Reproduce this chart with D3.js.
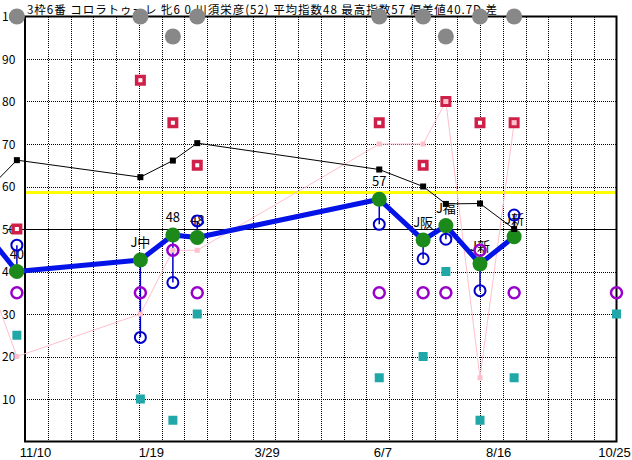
<!DOCTYPE html>
<html>
<head>
<meta charset="utf-8">
<script src="https://cdn.jsdelivr.net/npm/d3@7"></script>
<style>
  body { margin: 0; background: #fff; }
  svg { display: block; }
  text { font-family: "Noto Sans CJK JP", "Liberation Sans", sans-serif; }
</style>
</head>
<body>
<svg id="chart"></svg>
<script>
const W = 632, H = 460;
const margin = { top: 16.5, right: 15.5, bottom: 18.5, left: 25 };

const title = '3枠6番 コロラトゥーレ 牝6 0 川須栄彦(52) 平均指数48 最高指数57 偏差値40.7D 差';

// race dates (first one is off the left edge, last one is the upcoming race)
const raceDates = ['2019-10-01', '2019-10-22', '2020-01-06', '2020-01-26', '2020-02-10',
                   '2020-06-01', '2020-06-28', '2020-07-12', '2020-08-02', '2020-08-23', '2020-10-25'];
const raceLabels = ['', '40', 'J中', '48', '48', '57', 'J阪', 'J福', 'J新', 'J新', ''];
const indexVals  = [50, 40, 42.7, 48.6, 48, 57, 47.4, 50.8, 41.8, 48.2, null];
const avgVals    = [58, 66.2, 62.2, 66.1, 70.2, 64, 60, 55.9, 56, 50, null];
const blueVals   = [null, 46.2, 24.5, 37.4, 51.9, 51.1, 43, 47.6, 35.5, 53.3, null];
const purpleVals = [null, 35, 35, 45, 35, 35, 35, 35, 45, 35, 35];
const redVals    = [null, 50, 85, 75, 65, 75, 65, 80, 75, 75, null];
const pinkVals   = [42, 20, 30, 45, 45, 70, 70, 80, 15, 75, null];
const tealVals   = [null, 25, 10, 5, 30, 15, 20, 40, 5, 15, 30];
const grayVals   = [null, 100, 100, 95.3, 100, 100, 100, 95.3, 100, 100, null];

const xStart = '2019-10-27', xEnd = '2020-10-25';
const xLabels = ['11/10', '1/19', '3/29', '6/7', '8/16', '10/25'];
const yTicks = [10, 20, 30, 40, 50, 60, 70, 80, 90, 100];
const baseLine = 50, yellowLine = 58.6;

const parse = d3.utcParse('%Y-%m-%d');
const races = raceDates.map((d, i) => ({
  date: parse(d), label: raceLabels[i], idx: indexVals[i], avg: avgVals[i], blue: blueVals[i],
  purple: purpleVals[i], red: redVals[i], pink: pinkVals[i], teal: tealVals[i], gray: grayVals[i]
}));

const svg = d3.select('#chart').attr('width', W).attr('height', H);
svg.append('rect').attr('width', W).attr('height', H).attr('fill', '#fff');

const x = d3.scaleUtc()
  .domain([parse(xStart), parse(xEnd)])
  .range([margin.left, W - margin.right]);
const y = d3.scaleLinear()
  .domain([0, 100])
  .range([H - margin.bottom, margin.top]);
const xl = d3.scalePoint().domain(xLabels).range([35, 614]);

const left = margin.left, right = W - margin.right;

// grid
const gridDates = d3.range(1, 26).map(i => d3.utcDay.offset(parse(xStart), i * 14));
svg.append('g').selectAll('line').data(gridDates).join('line')
  .attr('x1', d => Math.round(x(d)) + 0.5).attr('x2', d => Math.round(x(d)) + 0.5)
  .attr('y1', y(100)).attr('y2', y(0))
  .attr('stroke', '#000').attr('stroke-dasharray', '1,1').attr('shape-rendering', 'crispEdges');
svg.append('g').selectAll('line').data(yTicks.filter(v => v < 100 && v !== baseLine)).join('line')
  .attr('x1', left).attr('x2', right)
  .attr('y1', d => Math.round(y(d)) + 0.5).attr('y2', d => Math.round(y(d)) + 0.5)
  .attr('stroke', '#000').attr('stroke-dasharray', '1,1').attr('shape-rendering', 'crispEdges');

// y labels
svg.append('g').selectAll('text').data(yTicks).join('text')
  .attr('x', 2).attr('y', d => y(d) + 4.5)
  .attr('font-size', 12).attr('fill', '#000')
  .text(d => d);

// x labels
svg.append('g')
  .attr('transform', `translate(0, ${H - 15})`)
  .call(d3.axisBottom(xl).tickSize(0))
  .call(g => g.select('.domain').remove())
  .selectAll('text').attr('font-size', 13).attr('fill', '#000')
  .style('font-family', '"Liberation Sans", sans-serif');

// 50 line and yellow line
svg.append('line').attr('x1', 8).attr('x2', right)
  .attr('y1', Math.round(y(baseLine)) + 0.5).attr('y2', Math.round(y(baseLine)) + 0.5)
  .attr('stroke', '#000').attr('shape-rendering', 'crispEdges');
svg.append('line').attr('x1', left).attr('x2', right)
  .attr('y1', y(yellowLine)).attr('y2', y(yellowLine))
  .attr('stroke', '#ffff00').attr('stroke-width', 3);

// frame
svg.append('rect').attr('x', left).attr('y', margin.top)
  .attr('width', right - left).attr('height', y(0) - margin.top)
  .attr('fill', 'none').attr('stroke', '#000').attr('stroke-width', 2);

// title
svg.append('text').attr('x', 27).attr('y', 13.5).attr('font-size', 11.5).attr('fill', '#000')
  .attr('textLength', 470).attr('lengthAdjust', 'spacing')
  .text(title);

const xr = d => x(d.date);

// pink line
const pinkData = races.filter(d => d.pink != null);
svg.append('path').datum(pinkData)
  .attr('d', d3.line().x(xr).y(d => y(d.pink)))
  .attr('fill', 'none').attr('stroke', '#ffc0cc').attr('stroke-width', 1);

// index line (blue)
const idxData = races.filter(d => d.idx != null);
svg.append('path').datum(idxData)
  .attr('d', d3.line().x(xr).y(d => y(d.idx)))
  .attr('fill', 'none').attr('stroke', '#0414e8').attr('stroke-width', 5).attr('stroke-linejoin', 'round');

// blue connectors
const blueData = races.filter(d => d.blue != null && d.idx != null);
svg.append('g').selectAll('line').data(blueData).join('line')
  .attr('x1', xr).attr('x2', xr)
  .attr('y1', d => y(d.idx)).attr('y2', d => y(d.blue))
  .attr('stroke', '#0000cc').attr('stroke-width', 1.5);

// green dots
svg.append('g').selectAll('circle').data(idxData).join('circle')
  .attr('cx', xr).attr('cy', d => y(d.idx)).attr('r', 7.5)
  .attr('fill', '#1b8a1b');

// race labels
svg.append('g').selectAll('text').data(idxData).join('text')
  .attr('x', xr).attr('y', d => y(d.idx) - 13)
  .attr('text-anchor', 'middle').attr('font-size', 13).attr('fill', '#000')
  .text(d => d.label);

// avg line (black)
const avgData = races.filter(d => d.avg != null);
svg.append('path').datum(avgData)
  .attr('d', d3.line().x(xr).y(d => y(d.avg)))
  .attr('fill', 'none').attr('stroke', '#000').attr('stroke-width', 1);
svg.append('g').selectAll('rect').data(avgData).join('rect')
  .attr('x', d => xr(d) - 3).attr('y', d => y(d.avg) - 3)
  .attr('width', 6).attr('height', 6).attr('fill', '#000');

// blue circles
svg.append('g').selectAll('circle').data(blueData).join('circle')
  .attr('cx', xr).attr('cy', d => y(d.blue)).attr('r', 5.5)
  .attr('fill', 'none').attr('stroke', '#0000cc').attr('stroke-width', 2);

// purple circles
svg.append('g').selectAll('circle').data(races.filter(d => d.purple != null)).join('circle')
  .attr('cx', xr).attr('cy', d => y(d.purple)).attr('r', 5.5)
  .attr('fill', 'none').attr('stroke', '#9900cc').attr('stroke-width', 2.5);

// red squares
svg.append('g').selectAll('rect').data(races.filter(d => d.red != null)).join('rect')
  .attr('x', d => xr(d) - 3.75).attr('y', d => y(d.red) - 3.75)
  .attr('width', 7.5).attr('height', 7.5)
  .attr('fill', '#fff').attr('stroke', '#d0204a').attr('stroke-width', 3.5);

// pink squares
svg.append('g').selectAll('rect').data(pinkData.slice(1)).join('rect')
  .attr('x', d => xr(d) - 2.5).attr('y', d => y(d.pink) - 2.5)
  .attr('width', 5).attr('height', 5).attr('fill', '#ffc0cc');

// teal squares
svg.append('g').selectAll('rect').data(races.filter(d => d.teal != null)).join('rect')
  .attr('x', d => xr(d) - 4.5).attr('y', d => y(d.teal) - 4.5)
  .attr('width', 9).attr('height', 9).attr('fill', '#20a8a8');

// gray dots
svg.append('g').selectAll('circle').data(races.filter(d => d.gray != null)).join('circle')
  .attr('cx', xr).attr('cy', d => y(d.gray)).attr('r', 8)
  .attr('fill', '#888');
</script>
</body>
</html>
